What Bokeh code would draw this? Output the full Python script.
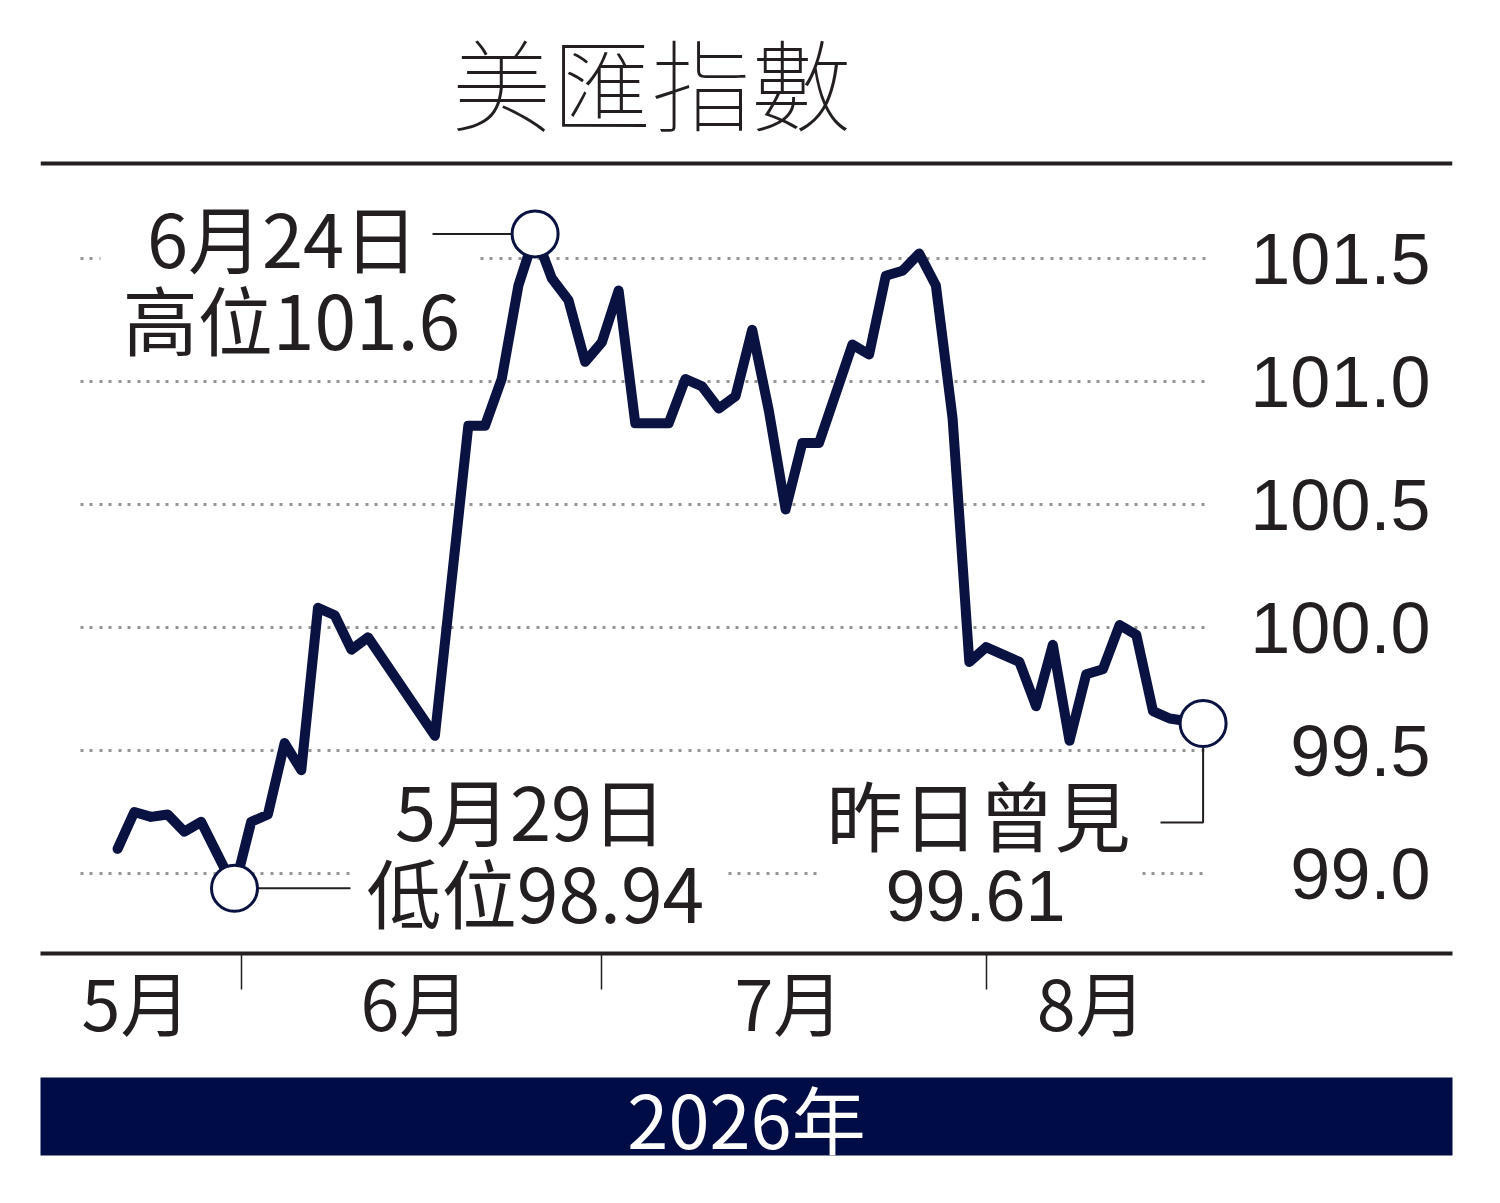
from bokeh.plotting import figure
from bokeh.models import Range1d, FixedTicker, Span, Label, CustomJSTickFormatter
from bokeh.layouts import column
from bokeh.embed import file_html
from bokeh.resources import INLINE

# ---------------- data ----------------
# trading-day index (0 = 5月29日), US dollar index level
day_index = [-7, -6, -5, -4, -3, -2, 0, 1, 2, 3, 4, 5, 6, 7, 8, 12, 14, 15, 16, 17,
             18, 19, 20, 21, 22, 23, 24, 26, 27, 28, 29, 30, 31, 32, 33, 34, 35, 37,
             38, 39, 40, 41, 42, 43, 44, 45, 47, 48, 49, 50, 51, 52, 53, 54, 55, 56, 58]
dxy_values = [99.10, 99.25, 99.23, 99.24, 99.17, 99.21, 98.94, 99.21, 99.24, 99.53,
              99.42, 100.08, 100.05, 99.91, 99.96, 99.56, 100.82, 100.82, 101.01, 101.39,
              101.60, 101.42, 101.33, 101.08, 101.16, 101.37, 100.83, 100.83, 101.01, 100.98,
              100.89, 100.94, 101.21, 100.88, 100.48, 100.75, 100.75, 101.15, 101.11, 101.43,
              101.45, 101.52, 101.39, 100.85, 99.86, 99.92, 99.86, 99.68, 99.93, 99.54,
              99.81, 99.83, 100.01, 99.97, 99.66, 99.63, 99.61]

y_ticks = [99.0, 99.5, 100.0, 100.5, 101.0, 101.5]
y_tick_labels = ["99.0", "99.5", "100.0", "100.5", "101.0", "101.5"]

months = ["5月", "6月", "7月", "8月"]
month_label_pos = [-5.9, 10.8, 33.2, 51.3]
month_breaks = [0.4, 21.95, 45.05]

title_text = "美匯指數"
year_text = "2026年"

high_day, high_date = 18, "6月24日"
low_day, low_date = 0, "5月29日"
last_day, last_caption = 58, "昨日曾見"

# ---------------- styling / layout ----------------
INK = "#231f20"
NAVY = "#0a1242"
BAR_NAVY = "#000c45"
GRID = "#959595"
CJK = "Noto Sans CJK TC"
LATIN = "Liberation Sans"
LABEL_PROPS = Label.properties()
HEAVY_OK = "text_outline_color" in LABEL_PROPS and "text_outline_width" in LABEL_PROPS

# page-pixel -> data helpers (layout only)
X0_PX, DX_PX = 234.0, 16.7
Y0_VAL, Y0_PX, DY_PX = 101.5, 258.0, 246.0


def ix(px):
    return (px - X0_PX) / DX_PX


def iy(py):
    return Y0_VAL + (Y0_PX - py) / DY_PX


W = 1492
FRAME_BOTTOM = 953
MAIN_BOTTOM_BORDER = 104
MAIN_H = FRAME_BOTTOM + MAIN_BOTTOM_BORDER
BAR_TOP, BAR_BOTTOM, PAGE_BOTTOM = 1077, 1155, 1199

p = figure(width=W, height=MAIN_H,
           x_range=Range1d(ix(40), ix(1452)), y_range=Range1d(iy(FRAME_BOTTOM), iy(0)),
           x_axis_location="below", y_axis_location=None,
           toolbar_location=None, output_backend="svg",
           min_border_left=40, min_border_right=W - 1452, min_border_top=0,
           min_border_bottom=MAIN_BOTTOM_BORDER,
           outline_line_color=None, background_fill_color="white", border_fill_color="white")
p.title.visible = False
p.grid.visible = False

# annotated points, taken from the series
def point(day):
    k = day_index.index(day)
    return day_index[k], dxy_values[k]

hx, hy = point(high_day)
lx, ly = point(low_day)
tx, ty = point(last_day)

# dotted gridlines (with gaps behind the annotations)
grid_span = (80, 1207)
grid_gaps = {101.5: [(100, 480)], 99.0: [(350, 728), (819, 1142)]}
gx0, gx1, gy = [], [], []
for t in y_ticks:
    start = grid_span[0]
    for a, b in grid_gaps.get(t, []):
        gx0.append(ix(start)); gx1.append(ix(a)); gy.append(t)
        start = b
    gx0.append(ix(start)); gx1.append(ix(grid_span[1])); gy.append(t)
p.segment(x0=gx0, y0=gy, x1=gx1, y1=gy, line_color=GRID, line_width=3, line_dash="3 6 3 7")

# leader lines
p.line(x=[ix(432), hx], y=[hy, hy], line_color=INK, line_width=2)
p.line(x=[lx, ix(350)], y=[ly, ly], line_color=INK, line_width=2)
p.line(x=[tx, tx, ix(1160)], y=[ty, iy(822), iy(822)], line_color=INK, line_width=2)

# the series
p.line(x=day_index, y=dxy_values, line_color=NAVY, line_width=10, line_join="round", line_cap="round")
p.scatter(x=[hx, lx, tx], y=[hy, ly, ty], size=46, fill_color="white",
          line_color=NAVY, line_width=3)

# top rule
p.add_layout(Span(location=iy(163), dimension="width", line_color=INK, line_width=4))


def add_text(fig, x, y, text, font, size, align="center", color=INK, heavy=False):
    kw = dict(x=x, y=y, text=text, text_font=font, text_font_size=size,
              text_color=color, text_align=align, text_baseline="middle")
    if heavy and HEAVY_OK:
        kw["text_outline_color"] = color
        kw["text_outline_width"] = 2
    fig.add_layout(Label(**kw))


# y tick labels (right side)
for t, lab in zip(y_ticks, y_tick_labels):
    add_text(p, ix(1430), t, lab, LATIN, "72px", align="right")

# annotation texts
add_text(p, ix(975), iy(895), f"{ty}", LATIN, "72px")
for px, py, size, txt in [(282, 235, "74px", high_date), (291, 317, "75px", f"高位{hy}"),
                          (530, 808, "74px", low_date), (535, 890, "75px", f"低位{ly}"),
                          (978, 812, "76px", last_caption)]:
    add_text(p, ix(px), iy(py), txt, CJK, size)

# x axis: bottom rule, month boundaries as ticks, month names between
ax = p.xaxis[0]
ax.ticker = FixedTicker(ticks=month_label_pos, minor_ticks=month_breaks)
ax.formatter = CustomJSTickFormatter(args=dict(pos=month_label_pos, names=months),
                                     code="const i = pos.indexOf(tick); return i >= 0 ? names[i] : '';")
ax.axis_line_color = INK
ax.axis_line_width = 4
ax.major_tick_line_color = None
ax.major_tick_out = 36
ax.major_tick_in = 0
ax.minor_tick_line_color = INK
ax.minor_tick_line_width = 1.5
ax.minor_tick_out = 36
ax.minor_tick_in = 0
ax.major_label_text_font = CJK
ax.major_label_text_font_size = "70px"
ax.major_label_text_color = INK
ax.major_label_standoff = -40

# title
add_text(p, ix(651), iy(80), title_text, CJK, "100px", heavy=True)

# bottom year bar
bar = figure(width=W, height=PAGE_BOTTOM - MAIN_H, x_range=Range1d(0, 1), y_range=Range1d(0, 1),
             x_axis_location=None, y_axis_location=None, toolbar_location=None,
             output_backend="svg",
             min_border_left=40, min_border_right=W - 1452,
             min_border_top=BAR_TOP - MAIN_H, min_border_bottom=PAGE_BOTTOM - BAR_BOTTOM,
             background_fill_color=BAR_NAVY, border_fill_color="white", outline_line_color=None)
bar.title.visible = False
bar.grid.visible = False
add_text(bar, 0.5, 0.5, year_text, CJK, "74px", color="white", heavy=True)

layout = column(p, bar)
open("out.html", "w").write(file_html(layout, INLINE))
